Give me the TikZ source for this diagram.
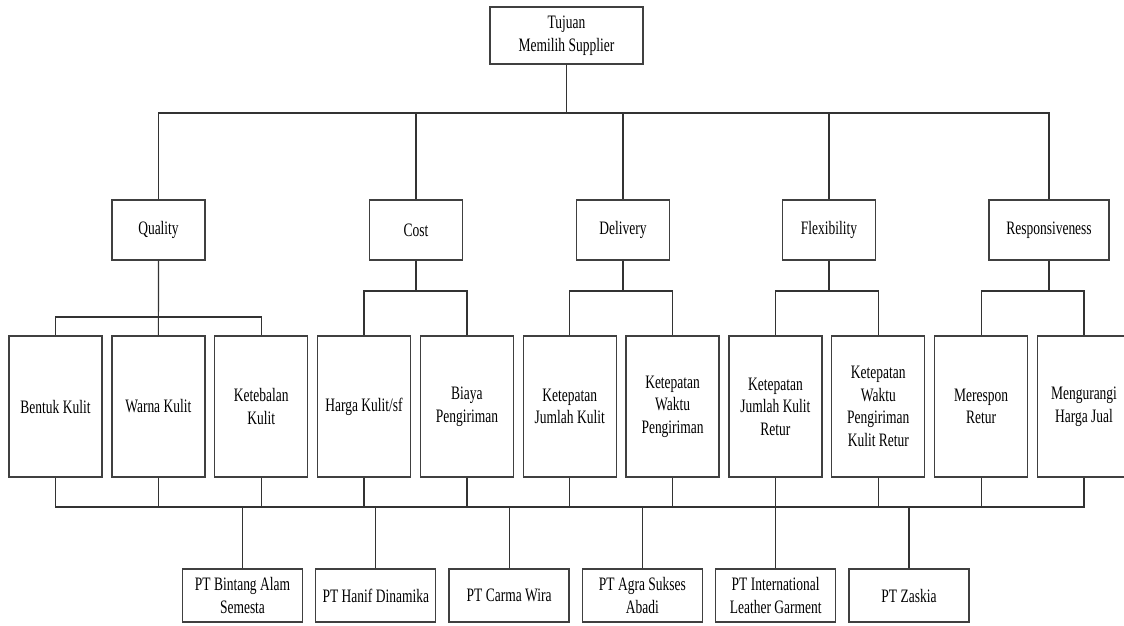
\documentclass[tikz,border=0pt]{standalone}
\usepackage{fontspec}
\setmainfont[FakeStretch=0.71]{Liberation Serif}
\usetikzlibrary{positioning}
\tikzset{
	goal/.style={draw=black!75, line width=1.3pt, rectangle, inner sep=2pt, align=center, minimum width=153pt, minimum height=57pt, font=\fontsize{19}{22.5}\selectfont},
	criteria/.style={draw=black!75, line width=1.3pt, rectangle, inner sep=2pt, align=center, minimum width=93pt, minimum height=60pt, font=\fontsize{19}{22.5}\selectfont},
	subcrit/.style={draw=black!75, line width=1.3pt, rectangle, inner sep=2pt, align=center, minimum width=93pt, minimum height=141pt, font=\fontsize{19}{22.5}\selectfont},
	% alternatives in the bottom row
	alt/.style={draw=black!75, line width=1.3pt, rectangle, inner sep=2pt, align=center, minimum width=120pt, minimum height=53pt, font=\fontsize{19}{22.5}\selectfont},
}

\begin{document}
\begin{tikzpicture}[x=1pt, y=-1pt]
	\clip (0,0) rectangle (1124,625);
	\node (tujuan) [goal] at (566.5,35.5) {Tujuan\\Memilih Supplier};

	\node (quality) [criteria] at (158.5,230) {Quality};
	\node (cost) [criteria] at (416,230) {Cost};
	\node (delivery) [criteria] at (623,230) {Delivery};
	\node (flexibility) [criteria] at (829,230) {Flexibility};
	\node (responsiveness) [criteria, minimum width=120pt] at (1049,230) {Responsiveness};

	\node (bentuk) [subcrit] at (55.5,406.5) {Bentuk Kulit};
	\node (warna) [subcrit, right=8.55pt of bentuk] {Warna Kulit};
	\node (ketebalan) [subcrit, right=8.55pt of warna] {Ketebalan\\Kulit};
	\node (harga) [subcrit, right=8.55pt of ketebalan] {Harga Kulit/sf};
	\node (biaya) [subcrit, right=8.55pt of harga] {Biaya\\Pengiriman};
	\node (jumlah) [subcrit, right=8.55pt of biaya] {Ketepatan\\Jumlah Kulit};
	\node (waktu) [subcrit, right=8.55pt of jumlah] {Ketepatan\\Waktu\\Pengiriman};
	\node (jumlahretur) [subcrit, right=8.55pt of waktu] {Ketepatan\\Jumlah Kulit\\Retur};
	\node (wakturetur) [subcrit, right=8.55pt of jumlahretur] {Ketepatan\\Waktu\\Pengiriman\\Kulit Retur};
	\node (merespon) [subcrit, right=8.55pt of wakturetur] {Merespon\\Retur};
	\node (mengurangi) [subcrit, right=8.55pt of merespon] {Mengurangi\\Harga Jual};

	\node (bintang) [alt] at (242.5,595.5) {PT Bintang Alam\\Semesta};
	\node (hanif) [alt, right=12pt of bintang] {PT Hanif Dinamika};
	\node (carma) [alt, right=12pt of hanif] {PT Carma Wira};
	\node (agra) [alt, right=12pt of carma] {PT Agra Sukses\\Abadi};
	\node (leather) [alt, right=12pt of agra] {PT International\\Leather Garment};
	\node (zaskia) [alt, right=12pt of leather] {PT Zaskia};

	\coordinate (bar1) at (0,113);
	\coordinate (bar2) at (0,317);
	\coordinate (bar3) at (0,291);
	\coordinate (bar4) at (0,507);

	\begin{scope}[line width=1.2pt, black!80]
		\draw (tujuan.south) |- (quality.north |- bar1) -- (quality.north);
		\draw (tujuan.south) |- (cost.north |- bar1) -- (cost.north);
		\draw (tujuan.south) |- (delivery.north |- bar1) -- (delivery.north);
		\draw (tujuan.south) |- (flexibility.north |- bar1) -- (flexibility.north);
		\draw (tujuan.south) |- (responsiveness.north |- bar1) -- (responsiveness.north);

		\draw (quality.south) |- (bentuk.north |- bar2) -- (bentuk.north);
		\draw (quality.south) -- (warna.north);
		\draw (quality.south) |- (ketebalan.north |- bar2) -- (ketebalan.north);
		\draw (cost.south) |- (harga.north |- bar3) -- (harga.north);
		\draw (cost.south) |- (biaya.north |- bar3) -- (biaya.north);
		\draw (delivery.south) |- (jumlah.north |- bar3) -- (jumlah.north);
		\draw (delivery.south) |- (waktu.north |- bar3) -- (waktu.north);
		\draw (flexibility.south) |- (jumlahretur.north |- bar3) -- (jumlahretur.north);
		\draw (flexibility.south) |- (wakturetur.north |- bar3) -- (wakturetur.north);
		\draw (responsiveness.south) |- (merespon.north |- bar3) -- (merespon.north);
		\draw (responsiveness.south) |- (mengurangi.north |- bar3) -- (mengurangi.north);

		\draw (bentuk.south) |- (mengurangi.south |- bar4) -- (mengurangi.south);
		\draw (warna.south) -- (warna.south |- bar4);
		\draw (ketebalan.south) -- (ketebalan.south |- bar4);
		\draw (harga.south) -- (harga.south |- bar4);
		\draw (biaya.south) -- (biaya.south |- bar4);
		\draw (jumlah.south) -- (jumlah.south |- bar4);
		\draw (waktu.south) -- (waktu.south |- bar4);
		\draw (jumlahretur.south) -- (jumlahretur.south |- bar4);
		\draw (wakturetur.south) -- (wakturetur.south |- bar4);
		\draw (merespon.south) -- (merespon.south |- bar4);

		\draw (bintang.north) -- (bintang.north |- bar4);
		\draw (hanif.north) -- (hanif.north |- bar4);
		\draw (carma.north) -- (carma.north |- bar4);
		\draw (agra.north) -- (agra.north |- bar4);
		\draw (leather.north) -- (leather.north |- bar4);
		\draw (zaskia.north) -- (zaskia.north |- bar4);
	\end{scope}
\end{tikzpicture}
\end{document}
